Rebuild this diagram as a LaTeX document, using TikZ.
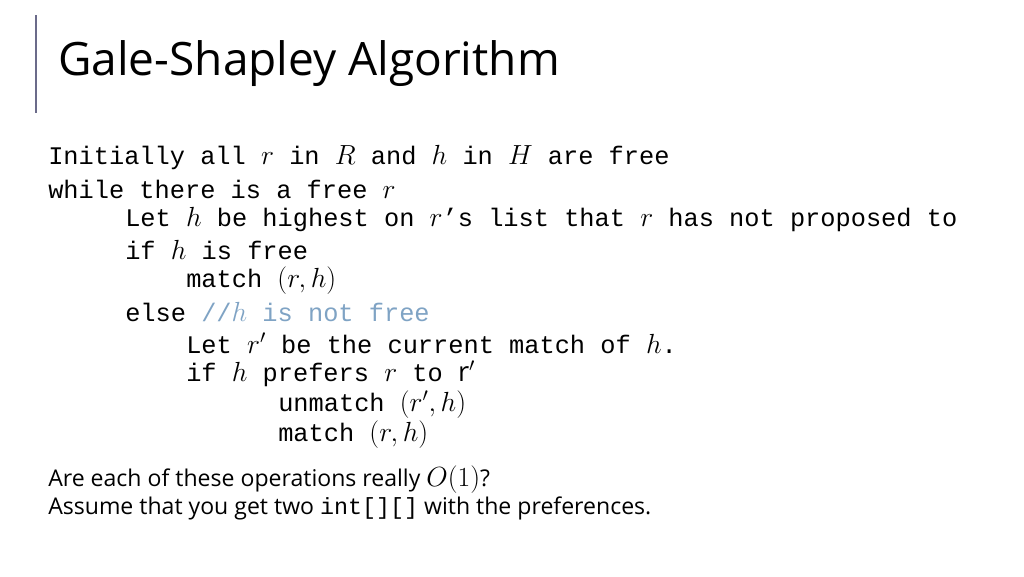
\documentclass[tikz,border=0pt]{standalone}
\usepackage{fontspec}
\setmainfont{Open Sans}
\setmonofont{Liberation Mono}
\definecolor{barcol}{HTML}{6B6B8A}
\definecolor{commentcol}{HTML}{7FA3C4}
\newcommand{\mv}[1]{{\fontsize{20.5}{20}\selectfont$#1$}}
\tikzset{
  codeline/.style={anchor=west, inner sep=0pt, font=\ttfamily\fontsize{19}{20}\selectfont},
  bodyline/.style={anchor=west, inner sep=0pt, font=\fontsize{17.3}{20}\selectfont},
}
\begin{document}
\begin{tikzpicture}[x=0.75pt, y=-0.75pt]
\useasboundingbox (0,0) rectangle (1024,576);
% title {{{
\draw[barcol, line width=1.2pt] (36,15) -- (36,113);
\node[anchor=west, inner sep=0pt, font=\fontsize{34.5}{40}\selectfont] (title) at (58,64) {Gale-Shapley Algorithm};
% }}}
% code {{{
\node[codeline] (l1) at (48,158) {Initially all \mv{r} in \mv{R} and \mv{h} in \mv{H} are free};
\node[codeline] (l2) at (48,189) {while there is a free \mv{r}};
\node[codeline] (l3) at (125,220) {Let \mv{h} be highest on \mv{r}’s list that \mv{r} has not proposed to};
\node[codeline] (l4) at (125,250) {if \mv{h} is free};
\node[codeline] (l5) at (186,281) {match \mv{(r,h)}};
\node[codeline] (l6) at (125,312) {else \textcolor{commentcol}{//\mv{h} is not free}};
\node[codeline] (l7) at (186,343) {Let \mv{r'} be the current match of \mv{h}.};
\node[codeline] (l8) at (186,374) {if \mv{h} prefers \mv{r} to \mv{\mathrm{r}'}};
\node[codeline] (l9) at (278,405) {unmatch \mv{(r',h)}};
\node[codeline] (l10) at (278,435) {match \mv{(r,h)}};
% }}}
% questions {{{
\node[bodyline] (q1) at (48,480) {Are each of these operations really \mv{O(1)}?};
\node[bodyline] (q2) at (48,508) {Assume that you get two {\ttfamily\fontsize{17.5}{20}\selectfont int[][]} with the preferences.};
% }}}
\end{tikzpicture}
\end{document}
